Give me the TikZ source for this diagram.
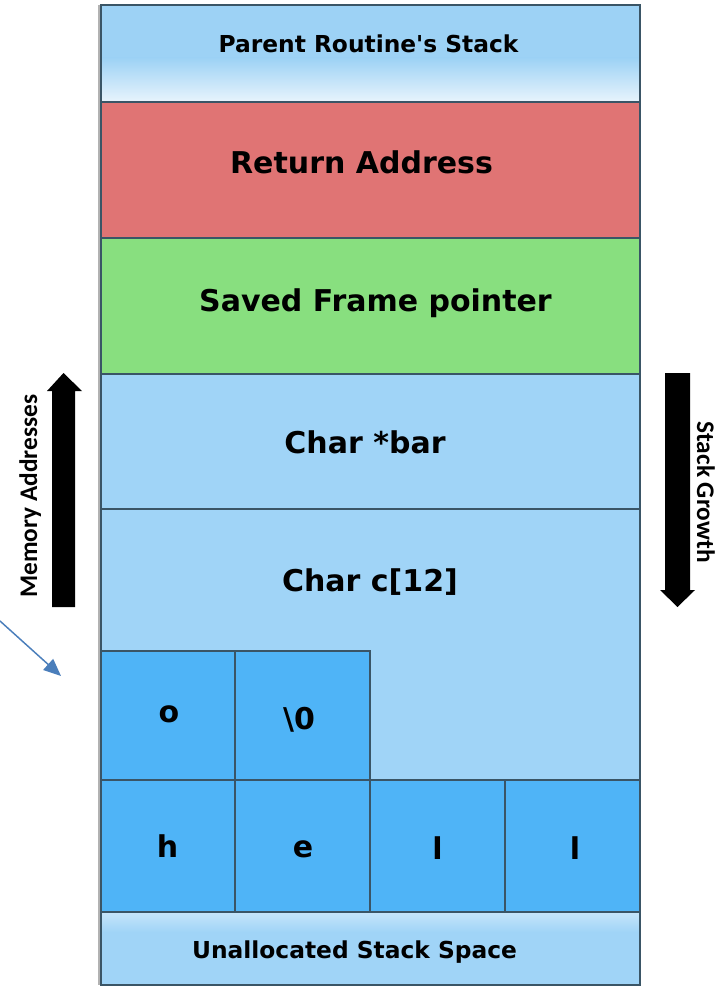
\documentclass[tikz,border=0pt]{standalone}
\usepackage{fontspec}
\setmainfont{DejaVu Sans}
\newfontfamily\sidefont{Carlito}
\usetikzlibrary{arrows.meta}

\definecolor{skyfill}{HTML}{A0D4F7}
\definecolor{skytop}{HTML}{9DD2F5}
\definecolor{skypale}{HTML}{E8F4FC}
\definecolor{skysoft}{HTML}{C6E5FA}
\definecolor{cellfill}{HTML}{4FB4F7}
\definecolor{retfill}{HTML}{E07474}
\definecolor{fpfill}{HTML}{88DF7F}
\definecolor{edge}{HTML}{3A5566}
\definecolor{pointer}{HTML}{4A7EBB}

\tikzset{
  slab/.style 2 args={draw=edge, line width=1.1pt, rectangle, inner sep=0pt,
    outer sep=0pt, minimum width=#1*0.75pt, minimum height=#2*0.75pt},
  bigtag/.style={font=\bfseries\fontsize{22.5}{26}\selectfont, inner sep=0pt, anchor=base},
  smalltag/.style={font=\bfseries\fontsize{17.5}{21}\selectfont, inner sep=0pt, anchor=base},
  sidetag/.style={font=\sidefont\bfseries\fontsize{19}{22}\selectfont, inner sep=0pt, anchor=base},
}

\begin{document}
\begin{tikzpicture}[x=0.75pt, y=-0.75pt]
  \useasboundingbox (0,0) rectangle (719,988);
  \fill[white] (0,0) rectangle (719,988);

  % soft left shadow of the stack column
  \draw[black!30, line width=1.5pt] (99,5) -- (99,985);

  % shaded bands behind the top and bottom slabs
  \fill[skytop] (101,5) rectangle (640,58);
  \shade[top color=skytop, bottom color=skypale] (101,58) rectangle (640,102);
  \fill[skyfill] (101,930) rectangle (640,985);
  \shade[top color=skysoft, bottom color=skyfill] (101,912) rectangle (640,932);

  % stack frame slabs
  \node[slab={539}{97}] (parent) at (370.5,53.5) {};
  \node[slab={539}{136}, fill=retfill] (ret) at (370.5,170) {};
  \node[slab={539}{136}, fill=fpfill] (sfp) at (370.5,306) {};
  \node[slab={539}{135}, fill=skyfill] (bar) at (370.5,441.5) {};
  \node[slab={539}{271}, fill=skyfill] (buf) at (370.5,644.5) {};
  \node[slab={539}{73}] (free) at (370.5,948.5) {};

  % buffer bytes
  \node[slab={134}{129}, fill=cellfill] (b4) at (168,715.5) {};
  \node[slab={135}{129}, fill=cellfill] (b5) at (302.5,715.5) {};
  \node[slab={134}{132}, fill=cellfill] (b0) at (168,846) {};
  \node[slab={135}{132}, fill=cellfill] (b1) at (302.5,846) {};
  \node[slab={135}{132}, fill=cellfill] (b2) at (437.5,846) {};
  \node[slab={135}{132}, fill=cellfill] (b3) at (572.5,846) {};

  % labels
  \node[smalltag] (tparent) at (368.5,53) {Parent Routine\textquotesingle s Stack};
  \node[bigtag] (tret) at (361.5,174) {Return Address};
  \node[bigtag] (tsfp) at (375.5,311) {Saved Frame pointer};
  \node[bigtag] (tbar) at (365,453) {Char *bar};
  \node[bigtag] (tbuf) at (370,591) {Char c[12]};
  \node[bigtag] (t4) at (169,722) {o};
  \node[bigtag] (t5) at (299,729) {\textbackslash 0};
  \node[bigtag] (t0) at (167.5,857) {h};
  \node[bigtag] (t1) at (303,857) {e};
  \node[bigtag] (t2) at (437.5,859) {l};
  \node[bigtag] (t3) at (575,859) {l};
  \node[smalltag] (tfree) at (354.5,958) {Unallocated Stack Space};

  % direction arrows beside the stack
  \fill[black] (52,607) -- (52,391) -- (47,391) -- (63.5,373) -- (82,391)
    -- (75,391) -- (75,607) -- cycle;
  \fill[black] (665,373) -- (690,373) -- (690,590) -- (695,590) -- (677.5,607)
    -- (660,590) -- (665,590) -- cycle;
  \node[sidetag, rotate=90] (tmem) at (37,496) {Memory Addresses};
  \node[sidetag, rotate=-90] (tgrow) at (697,492) {Stack Growth};

  % pointer into the buffer
  \coordinate (ptail) at (0,621);
  \coordinate (ptip) at (61,676);
  \draw[pointer, line width=1.1pt, -{Triangle[length=13pt, width=11pt]}] (ptail) -- (ptip);
\end{tikzpicture}
\end{document}
